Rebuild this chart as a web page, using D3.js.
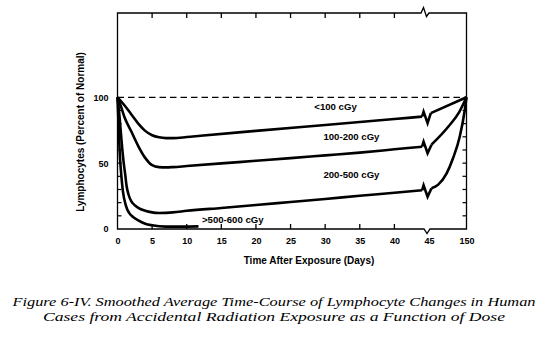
<!DOCTYPE html>
<html>
<head>
<meta charset="utf-8">
<script src="https://cdn.jsdelivr.net/npm/d3@7"></script>
<style>
  body { margin: 0; background: #fff; }
  svg { display: block; }
  .tick text { font-family: "Liberation Sans", Arial, sans-serif; font-weight: bold; font-size: 9px; fill: #000; }
  .lbl { font-family: "Liberation Sans", Arial, sans-serif; font-weight: bold; font-size: 9.6px; fill: #000; }
  .cap { font-family: "Liberation Serif", "Times New Roman", serif; font-style: italic; font-size: 13px; fill: #000; }
</style>
</head>
<body>
<div id="output"></div>
<script>
var w = 550;   // svg width
var h = 341;   // svg height

// axis ticks
var xTickDays = [0, 5, 10, 15, 20, 25, 30, 35, 40, 45, 150];
var yTickVals = [0, 10, 20, 30, 40, 50, 60, 70, 80, 90, 100];
var yTickLabels = [0, 50, 100];

// dose groups, [day, percent of normal]; each curve is split at the axis break (45 days)
var doseNames = ['<100 cGy', '100-200 cGy', '200-500 cGy', '>500-600 cGy'];
var lowBefore = [[0, 100], [1, 94], [2, 87], [3, 80], [4, 74.5], [5, 71.2], [6, 69.6], [7, 69], [8, 69], [10, 69.8],
  [12, 70.8], [20, 74.5], [30, 79], [40, 83.5], [44, 85.3]];
var lowAfter = [[50, 88], [150, 100]];
var midBefore = [[0, 100], [0.5, 93], [1, 85], [2, 74], [3, 63], [4, 54], [5, 48.5], [6, 47], [7, 46.8], [8, 47],
  [10, 47.8], [15, 49.8], [20, 51.8], [25, 53.8], [30, 55.9], [35, 58], [40, 60.5], [44, 62.5]];
var midAfter = [[52, 64], [100, 78], [130, 89], [150, 100]];
var highBefore = [[0, 100], [0.3, 85], [0.6, 66], [0.9, 50], [1.1, 42], [1.3, 33], [1.6, 26], [2, 21], [2.5, 18],
  [3, 16], [4, 13.8], [5, 12.6], [6, 12.2], [8, 12.6], [10, 13.8], [15, 16], [20, 18.2], [25, 20.5], [30, 22.8],
  [35, 25.2], [40, 27.5], [44, 29.4]];
var highAfter = [[52, 31], [70, 33.5], [94, 42], [112, 53.5], [131, 70], [145, 90], [150, 100]];
var lethal = [[0, 100], [0.15, 80], [0.35, 55], [0.5, 44], [0.8, 28], [1.2, 18], [1.7, 12], [2.3, 9], [3, 6.5],
  [4, 4], [5, 2.8], [7, 1.8], [9, 1.8], [11.7, 2]];

var captionLines = [
  'Figure 6-IV.  Smoothed Average Time-Course of Lymphocyte Changes in Human',
  'Cases from Accidental Radiation Exposure as a Function of Dose'
];

var svg = d3.select('#output').append('svg')
  .attr('width', w)
  .attr('height', h);

// x is piecewise: 0-45 days is linear, then 45-150 squeezed after the break
var x = d3.scaleLinear().domain([0, 45, 150]).range([117.5, 429, 466.5]);
var y = d3.scaleLinear().domain([0, 164]).range([229, 13]);
var pLeft = x(0), pRight = x(150), pTop = y(164), pBottom = y(0), xb = x(45);

var line = d3.line()
  .x(function(d) { return x(d[0]); })
  .y(function(d) { return y(d[1]); })
  .curve(d3.curveMonotoneX);

// frame with break marks on the top and bottom edges
var frame = d3.path();
frame.moveTo(pLeft, pBottom);
frame.lineTo(pLeft, pTop);
frame.lineTo(xb - 8, pTop);
frame.lineTo(xb - 5.5, pTop - 5.5);
frame.lineTo(xb - 2.5, pTop + 3.5);
frame.lineTo(xb, pTop);
frame.lineTo(pRight, pTop);
frame.lineTo(pRight, pBottom);
frame.lineTo(xb + 1, pBottom);
frame.lineTo(xb - 2, pBottom + 4.5);
frame.lineTo(xb - 5, pBottom);
frame.closePath();
svg.append('path').attr('d', frame.toString())
  .attr('fill', 'none').attr('stroke', '#000').attr('stroke-width', 1.3);

// x ticks, inward at top and bottom (no tick at the break or the ends)
var innerDays = xTickDays.filter(function(d) { return d > 0 && d < 45; });
[[pBottom, -5], [pTop, 5]].forEach(function(s) {
  svg.append('g').selectAll('line').data(innerDays).enter().append('line')
    .attr('x1', function(d) { return x(d); }).attr('x2', function(d) { return x(d); })
    .attr('y1', s[0]).attr('y2', s[0] + s[1])
    .attr('stroke', '#000').attr('stroke-width', 1.3);
});

// y ticks inward on both sides
var innerVals = yTickVals.filter(function(d) { return d > 0 && d < 100; });
[[pLeft, 4], [pRight, -4]].forEach(function(s) {
  svg.append('g').selectAll('line').data(innerVals).enter().append('line')
    .attr('x1', s[0]).attr('x2', s[0] + s[1])
    .attr('y1', function(d) { return y(d); }).attr('y2', function(d) { return y(d); })
    .attr('stroke', '#000').attr('stroke-width', 1.2);
});

// tick labels via d3 axes with zero-length ticks
var xAxis = svg.append('g').attr('transform', 'translate(0,' + pBottom + ')')
  .call(d3.axisBottom(x).tickValues(xTickDays).tickSize(0).tickPadding(9).tickFormat(d3.format('d')));
xAxis.select('.domain').remove();

var yAxis = svg.append('g').attr('transform', 'translate(' + (pLeft - 9) + ',0)')
  .call(d3.axisLeft(y).tickValues(yTickLabels).tickSize(0).tickPadding(0));
yAxis.select('.domain').remove();

// dashed normal level
svg.append('line')
  .attr('x1', pLeft).attr('x2', pRight).attr('y1', y(100)).attr('y2', y(100))
  .attr('stroke', '#000').attr('stroke-width', 1.3).attr('stroke-dasharray', '6.5,4');

// draws one curve, with a zigzag between the two pieces if split
function drawCurve(before, after) {
  var g = svg.append('g').attr('fill', 'none').attr('stroke', '#000')
    .attr('stroke-width', 2.6).attr('stroke-linejoin', 'round');
  g.append('path').attr('d', line(before));
  if (!after) return;
  var p = before[before.length - 1], q = after[0];
  var px = x(p[0]), py = y(p[1]);
  g.append('path').attr('d', d3.line()([
    [px, py], [px + 1.5, py - 5], [px + 5.5, py + 6.5], [x(q[0]), y(q[1])]
  ])).attr('stroke-linejoin', 'miter');
  g.append('path').attr('d', line(after));
}
drawCurve(lowBefore, lowAfter);
drawCurve(midBefore, midAfter);
drawCurve(highBefore, highAfter);
drawCurve(lethal);

// dose labels, placed in data units
var labelAt = [[31.5, 90, 'middle'], [33.8, 67.2, 'middle'], [33.8, 39, 'middle'], [12.2, 4.9, 'start']];
svg.selectAll('text.lbl').data(doseNames).enter().append('text')
  .attr('class', 'lbl')
  .attr('x', function(d, i) { return x(labelAt[i][0]); })
  .attr('y', function(d, i) { return y(labelAt[i][1]); })
  .attr('text-anchor', function(d, i) { return labelAt[i][2]; })
  .text(function(d) { return d; });

// axis titles
svg.append('text').attr('class', 'lbl').style('font-size', '10px')
  .attr('x', 309).attr('y', 264).attr('text-anchor', 'middle')
  .text('Time After Exposure (Days)');
svg.append('text').attr('class', 'lbl').style('font-size', '10px')
  .attr('transform', 'translate(84,132) rotate(-90)').attr('text-anchor', 'middle')
  .text('Lymphocytes (Percent of Normal)');

// caption, stretched to the printed line widths
var capWidths = [523, 462];
svg.selectAll('text.cap').data(captionLines).enter().append('text')
  .attr('class', 'cap')
  .attr('x', 274).attr('y', function(d, i) { return 305.5 + i * 15; })
  .attr('text-anchor', 'middle')
  .attr('textLength', function(d, i) { return capWidths[i]; })
  .attr('lengthAdjust', 'spacingAndGlyphs')
  .text(function(d) { return d; });
</script>
</body>
</html>
